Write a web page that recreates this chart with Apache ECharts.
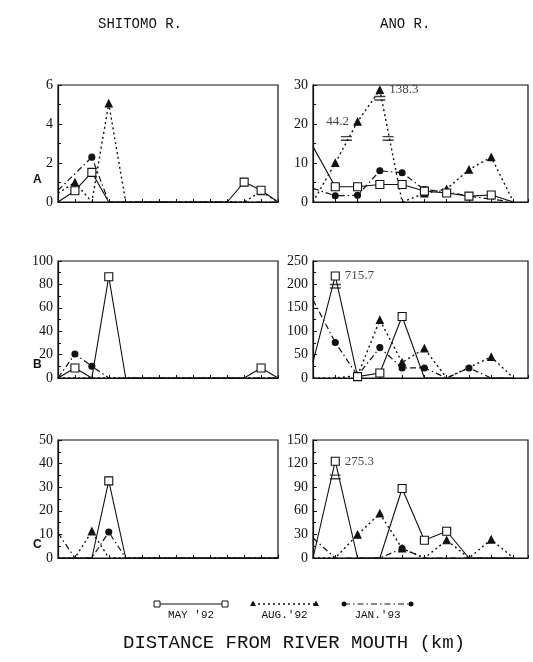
<!DOCTYPE html>
<html>
<head>
<meta charset="utf-8">
<script src="https://cdn.jsdelivr.net/npm/echarts@6/dist/echarts.min.js"></script>
<style>
  html, body { margin: 0; padding: 0; background: #fff; }
  #chart { width: 533px; height: 662px; }
</style>
</head>
<body>
<div id="chart"></div>
<script>
// station index along each river (0 = river mouth side)
var shitomoX = [0, 1, 2, 3, 4, 5, 6, 7, 8, 9, 10, 11, 12, 13];
var anoX = [0, 1, 2, 3, 4, 5, 6, 7, 8, 9];

// SHITOMO R.  (null = no sample, the line just joins the neighbours)
var shitomoMayA = [0, 0.58, 1.52, 0, 0, 0, 0, 0, 0, 0, 0, 1.02, 0.6, 0];
var shitomoAugA = [0.45, 1.0, 0, 5.05, 0, 0, 0, 0, 0, 0, 0, 0, 0.55, 0];
var shitomoJanA = [0.6, null, 2.3, 0, 0, 0, 0, 0, 0, 0, 0, 0, 0, 0];

var shitomoMayB = [0, 8.5, 0, 86.6, 0, 0, 0, 0, 0, 0, 0, 0, 8.5, 0];
var shitomoAugB = [0, 0, 0, 0, 0, 0, 0, 0, 0, 0, 0, 0, 0, 0];
var shitomoJanB = [0, 20.5, 10, 0, 0, 0, 0, 0, 0, 0, 0, 0, 0, 0];

var shitomoMayC = [0, 0, 0, 32.7, 0, 0, 0, 0, 0, 0, 0, 0, 0, 0];
var shitomoAugC = [0, 0, 11.3, 0, 0, 0, 0, 0, 0, 0, 0, 0, 0, 0];
var shitomoJanC = [10.6, 0, 0, 11, 0, 0, 0, 0, 0, 0, 0, 0, 0, 0];

// ANO R.  (values above the break are drawn compressed, true value written beside)
var anoMayA = [14.2, 3.9, 3.9, 4.5, 4.5, 2.8, 2.3, 1.5, 1.8, 0];
var anoAugA = [0, 10, 20.6, 28.7, 0, 2.2, 3.3, 8.3, 11.5, 0];
var anoJanA = [3.5, 1.6, 1.7, 8.0, 7.5, 3.2, 2.6, 1.5, null, 0];

var anoMayB = [34.5, 218, 3, 10.8, 131.5, 0, 0, 0, 0, 0];
var anoAugB = [0, 0, 5, 124, 33, 63, 0, null, 45, 0];
var anoJanB = [167, 76, 5, 65, 21.5, 21.5, 0, 21.5, 0, 0];

var anoMayC = [0, 123, 0, 0, 88.4, 22.5, 34, 0, 0, 0];
var anoAugC = [0, 0, 29.7, 56.5, 12, 0, 22.5, 0, 23.4, 0];
var anoJanC = [25.5, 0, 0, 0, 12, 0, 0, 0, 0, 0];

// axis break marks [x, y] and true values written at the break
var anoBreaksA = [[1.5, 16.3], [3.37, 16.3], [3, 26.6]];
var anoBreaksB = [[1, 196]];
var anoBreaksC = [[1, 103]];
var anoNotesA = [[2, 20.6, '44.2'], [3, 28.7, '138.3']];
var anoNotesB = [[1, 218, '715.7']];
var anoNotesC = [[1, 123, '275.3']];

// y axis ranges per panel: [max, interval]
var yShitomo = [[6, 2], [100, 20], [50, 10]];
var yAno = [[30, 10], [250, 50], [150, 30]];

var rowLabels = ['A', 'B', 'C'];
var seasonNames = ["MAY '92", "AUG.'92", "JAN.'93"];

var ink = '#111';
var myChart = echarts.init(document.getElementById('chart'));

var tops = [85, 261, 440];
var heights = [117, 117, 118];

var grids = [], xAxes = [], yAxes = [], series = [];

function makeData(xs, ys) {
    var out = [];
    for (var i = 0; i < ys.length; i++) {
        if (ys[i] === null) continue;
        var item = { value: [xs[i], ys[i]] };
        if (ys[i] === 0 || i === 0) item.symbol = 'none';  // no marker on the axis / at the edge
        out.push(item);
    }
    return out;
}

var styles = [
    { symbol: 'rect', size: 8, fill: '#fff', line: 'solid', width: 1.1, z: 4 },
    { symbol: 'triangle', size: 7, fill: ink, line: [2, 3], width: 1.4, z: 3 },
    { symbol: 'circle', size: 6, fill: ink, line: [6, 3, 1.5, 3], width: 1.2, z: 3 }
];

function addPanel(gi, left, width, xmax, xs, sets, yr, breaks, notes, notePos) {
    grids.push({ left: left, top: tops[gi % 3], width: width, height: heights[gi % 3],
        show: true, borderColor: ink, borderWidth: 1.2, backgroundColor: 'transparent' });
    xAxes.push({ gridIndex: gi, type: 'value', min: 0, max: xmax, interval: 1,
        axisLine: { lineStyle: { color: ink, width: 1.2 } },
        axisTick: { show: true, inside: true, length: 3, lineStyle: { color: ink } },
        axisLabel: { show: false }, splitLine: { show: false } });
    yAxes.push({ gridIndex: gi, type: 'value', min: 0, max: yr[0], interval: yr[1],
        axisLine: { show: true, lineStyle: { color: ink, width: 1.2 } },
        axisTick: { show: true, inside: true, length: 4, lineStyle: { color: ink } },
        minorTick: { show: true, splitNumber: 2, length: 3, lineStyle: { color: ink } },
        axisLabel: { color: ink, fontFamily: 'Liberation Serif', fontSize: 14, margin: 5 },
        splitLine: { show: false } });
    sets.forEach(function (ys, k) {
        var st = styles[k];
        series.push({
            name: seasonNames[k], type: 'line', xAxisIndex: gi, yAxisIndex: gi,
            data: makeData(xs, ys), connectNulls: true, z: st.z,
            symbol: st.symbol, symbolSize: st.size, showAllSymbol: true,
            itemStyle: { color: st.fill, borderColor: ink, borderWidth: 1.1 },
            lineStyle: { color: ink, width: st.width, type: st.line },
            animation: false, silent: true
        });
    });
    if (breaks) {
        series.push({
            type: 'scatter', xAxisIndex: gi, yAxisIndex: gi, z: 5,
            symbol: 'path://M0,0H12V1.4H0ZM0,3.6H12V5H0Z', symbolSize: [11, 5],
            itemStyle: { color: ink }, data: breaks, animation: false, silent: true
        });
    }
    if (notes) {
        series.push({
            type: 'scatter', xAxisIndex: gi, yAxisIndex: gi, z: 6,
            symbolSize: 1, itemStyle: { color: 'rgba(0,0,0,0)' },
            data: notes.map(function (n, j) {
                return { value: [n[0], n[1]], name: n[2],
                    label: { show: true, position: notePos[j], distance: notePos[j] === 'left' ? 8 : 9,
                        formatter: '{b}', color: ink, fontFamily: 'Liberation Serif', fontSize: 13 } };
            }),
            animation: false, silent: true
        });
    }
}

addPanel(0, 58, 220, 13, shitomoX, [shitomoMayA, shitomoAugA, shitomoJanA], yShitomo[0]);
addPanel(1, 58, 220, 13, shitomoX, [shitomoMayB, shitomoAugB, shitomoJanB], yShitomo[1]);
addPanel(2, 58, 220, 13, shitomoX, [shitomoMayC, shitomoAugC, shitomoJanC], yShitomo[2]);
addPanel(3, 313, 215, 9.65, anoX, [anoMayA, anoAugA, anoJanA], yAno[0], anoBreaksA, anoNotesA, ['left', 'right']);
addPanel(4, 313, 215, 9.65, anoX, [anoMayB, anoAugB, anoJanB], yAno[1], anoBreaksB, anoNotesB, ['right']);
addPanel(5, 313, 215, 9.65, anoX, [anoMayC, anoAugC, anoJanC], yAno[2], anoBreaksC, anoNotesC, ['right']);

var mono = 'Liberation Mono';
var graphics = [
    { type: 'text', left: 98, top: 17, style: { text: 'SHITOMO R.', font: '14px ' + mono, fill: ink } },
    { type: 'text', left: 380, top: 17, style: { text: 'ANO R.', font: '14px ' + mono, fill: ink } },
    { type: 'text', left: 123, top: 633, style: { text: 'DISTANCE FROM RIVER MOUTH (km)', font: '19px ' + mono, fill: ink } }
];
[181, 366, 546].forEach(function (y, i) {
    graphics.push({ type: 'text', left: 33, top: y - 7, style: { text: rowLabels[i], font: 'bold 12px Liberation Sans', fill: ink } });
});

// legend key: line sample with a marker at each end, label underneath
var keyX = [[157, 225], [253, 316], [344, 411]];
keyX.forEach(function (k, i) {
    var st = styles[i];
    var y = 604;
    graphics.push({ type: 'line', shape: { x1: k[0], y1: y, x2: k[1], y2: y },
        style: { stroke: ink, lineWidth: st.width, lineDash: st.line === 'solid' ? null : st.line } });
    k.forEach(function (x) {
        if (i === 0) graphics.push({ type: 'rect', shape: { x: x - 3, y: y - 3, width: 6, height: 6 }, style: { fill: '#fff', stroke: ink, lineWidth: 1 } });
        if (i === 1) graphics.push({ type: 'polygon', shape: { points: [[x, y - 3.5], [x + 3, y + 2], [x - 3, y + 2]] }, style: { fill: ink } });
        if (i === 2) graphics.push({ type: 'circle', shape: { cx: x, cy: y, r: 2.5 }, style: { fill: ink } });
    });
    graphics.push({ type: 'text', x: (k[0] + k[1]) / 2, y: 610,
        style: { text: seasonNames[i], font: '11px ' + mono, fill: ink, textAlign: 'center' } });
});

myChart.setOption({
    animation: false,
    backgroundColor: '#fff',
    grid: grids,
    xAxis: xAxes,
    yAxis: yAxes,
    series: series,
    graphic: graphics
});
</script>
</body>
</html>
